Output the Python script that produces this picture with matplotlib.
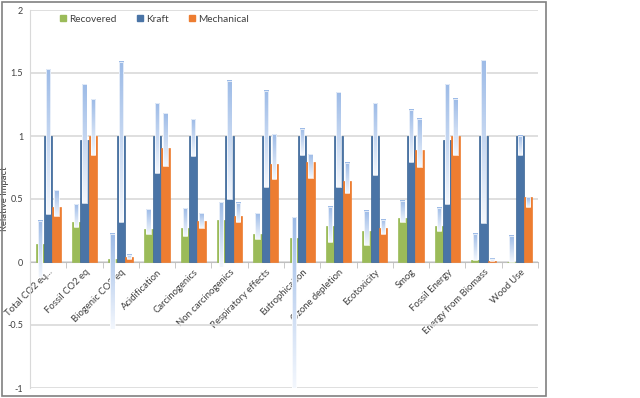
import numpy as np
import matplotlib
matplotlib.use("Agg")
import matplotlib.pyplot as plt
from matplotlib.patches import Rectangle, Patch
from matplotlib.colors import LinearSegmentedColormap
from matplotlib.transforms import ScaledTranslation

categories = ["Total CO2 eq...", "Fossil CO2 eq", "Biogenic CO2 eq", "Acidification",
              "Carcinogenics", "Non carcinogenics", "Respiratory effects", "Eutrophication",
              "Ozone depletion", "Ecotoxicity", "Smog", "Fossil Energy",
              "Energy from Biomass", "Wood Use"]

recovered = [0.145, 0.32, 0.024, 0.262, 0.272, 0.333, 0.22, 0.188, 0.286, 0.246, 0.352, 0.288, 0.016, 0.003]
recovered_lo = [-0.12, 0.28, -0.53, 0.222, 0.209, -0.04, 0.183, -1.0, 0.161, 0.135, 0.317, 0.243, 0.013, 0.0]
recovered_hi = [0.325, 0.46, 0.225, 0.418, 0.431, 0.474, 0.386, 0.357, 0.439, 0.407, 0.487, 0.431, 0.225, 0.209]

kraft = [1.0, 0.968, 1.0, 1.0, 1.0, 1.0, 1.0, 1.0, 1.0, 1.0, 1.0, 0.968, 1.0, 1.0]
kraft_lo = [0.38, 0.47, 0.32, 0.704, 0.844, 0.497, 0.598, 0.847, 0.598, 0.69, 0.796, 0.458, 0.312, 0.847]
kraft_hi = [1.53, 1.41, 1.59, 1.259, 1.132, 1.437, 1.36, 1.056, 1.347, 1.259, 1.209, 1.41, 1.603, 1.0]

mechanical = [0.437, 1.0, 0.037, 0.907, 0.328, 0.368, 0.775, 0.791, 0.643, 0.267, 0.892, 1.0, 0.01, 0.516]
mechanical_lo = [0.365, 0.847, 0.024, 0.765, 0.272, 0.315, 0.659, 0.664, 0.545, 0.22, 0.751, 0.847, 0.005, 0.437]
mechanical_hi = [0.571, 1.29, 0.056, 1.185, 0.386, 0.468, 1.016, 0.854, 0.786, 0.333, 1.135, 1.294, 0.024, 0.516]

series_names = ["Recovered", "Kraft", "Mechanical"]
colors = ["#9bbb59", "#4a74a6", "#ed7d31"]
edges = ["#9bbb59", "#3c6594", "#ed7d31"]

plt.rcParams['font.family'] = ['Lato', 'DejaVu Sans']
text_color = "#404040"

W, H = 640, 398
fig = plt.figure(figsize=(W / 100, H / 100), dpi=100)
ax = fig.add_axes([30 / W, 10 / H, (538 - 30) / W, (388 - 10) / H])

x = np.arange(len(categories))
bw = 0.23
offsets = [-bw, 0.0, bw]
values = [recovered, kraft, mechanical]
lows = [recovered_lo, kraft_lo, mechanical_lo]
highs = [recovered_hi, kraft_hi, mechanical_hi]

cmap = LinearSegmentedColormap.from_list("rng", ["#f3f7fd", "#9dbbe7"])
grad = np.linspace(0, 1, 128).reshape(-1, 1)
rw = bw * 0.52

for k in range(3):
    ax.bar(x + offsets[k], values[k], width=bw, color=colors[k], edgecolor=edges[k],
           linewidth=0.5, zorder=2)
for k in range(3):
    for i in range(len(categories)):
        lo, hi = lows[k][i], highs[k][i]
        if hi - lo <= 0:
            continue
        cx = x[i] + offsets[k]
        ax.imshow(grad, cmap=cmap, origin='lower', aspect='auto',
                  extent=(cx - rw / 2, cx + rw / 2, lo, hi), zorder=3,
                  interpolation='bilinear')
        ax.add_patch(Rectangle((cx - rw / 2, lo), rw, hi - lo, fill=False,
                               edgecolor='white', linewidth=0.5, zorder=4))

ax.set_xlim(-0.5, len(categories) - 0.5)
ax.set_ylim(-1, 2)
ax.set_yticks(np.arange(-1, 2.01, 0.5))
ax.set_yticklabels(["-1", "-0.5", "0", "0.5", "1", "1.5", "2"])
ax.yaxis.grid(True, color="#d9d9d9", linewidth=1.2, zorder=0)
ax.set_axisbelow(True)

for s in ["top", "right"]:
    ax.spines[s].set_visible(False)
ax.spines["left"].set_color("#d9d9d9")
ax.spines["bottom"].set_position(("data", 0))
ax.spines["bottom"].set_color("#bfbfbf")
ax.spines["bottom"].set_zorder(1)

ax.set_xticks(x)
ax.set_xticklabels(categories, rotation=45, ha="right", va="top",
                   rotation_mode="anchor", fontsize=6.8, color=text_color)
shift = ScaledTranslation(4 / 100, 0, fig.dpi_scale_trans)
for lab in ax.get_xticklabels():
    lab.set_transform(lab.get_transform() + shift)
ax.set_xticks(np.arange(-0.5, len(categories), 1), minor=True)
ax.tick_params(axis="x", which="major", length=0, pad=4)
ax.tick_params(axis="x", which="minor", length=4, color="#bfbfbf")
ax.tick_params(axis="y", length=0, pad=5, labelsize=6.5, labelcolor=text_color)

ax.set_ylabel("Relative Impact", fontsize=6.8, color=text_color)
ax.yaxis.set_label_coords(-21 / 508, 0.5)

handles = [Patch(facecolor=c, edgecolor=c) for c in colors]
fig.legend(handles, series_names, loc="center left",
           bbox_to_anchor=(60 / W, 1 - 19 / H), ncol=3, frameon=False,
           handlelength=0.6, handleheight=0.6, handletextpad=0.3,
           columnspacing=2.0, fontsize=7.3, labelcolor=text_color, borderpad=0,
           borderaxespad=0)

fig.patches.append(Rectangle((2 / W, 2 / H), 544 / W, 394 / H, transform=fig.transFigure,
                             fill=False, edgecolor="#808080", linewidth=1.2))

fig.savefig("out.png", dpi=100)
